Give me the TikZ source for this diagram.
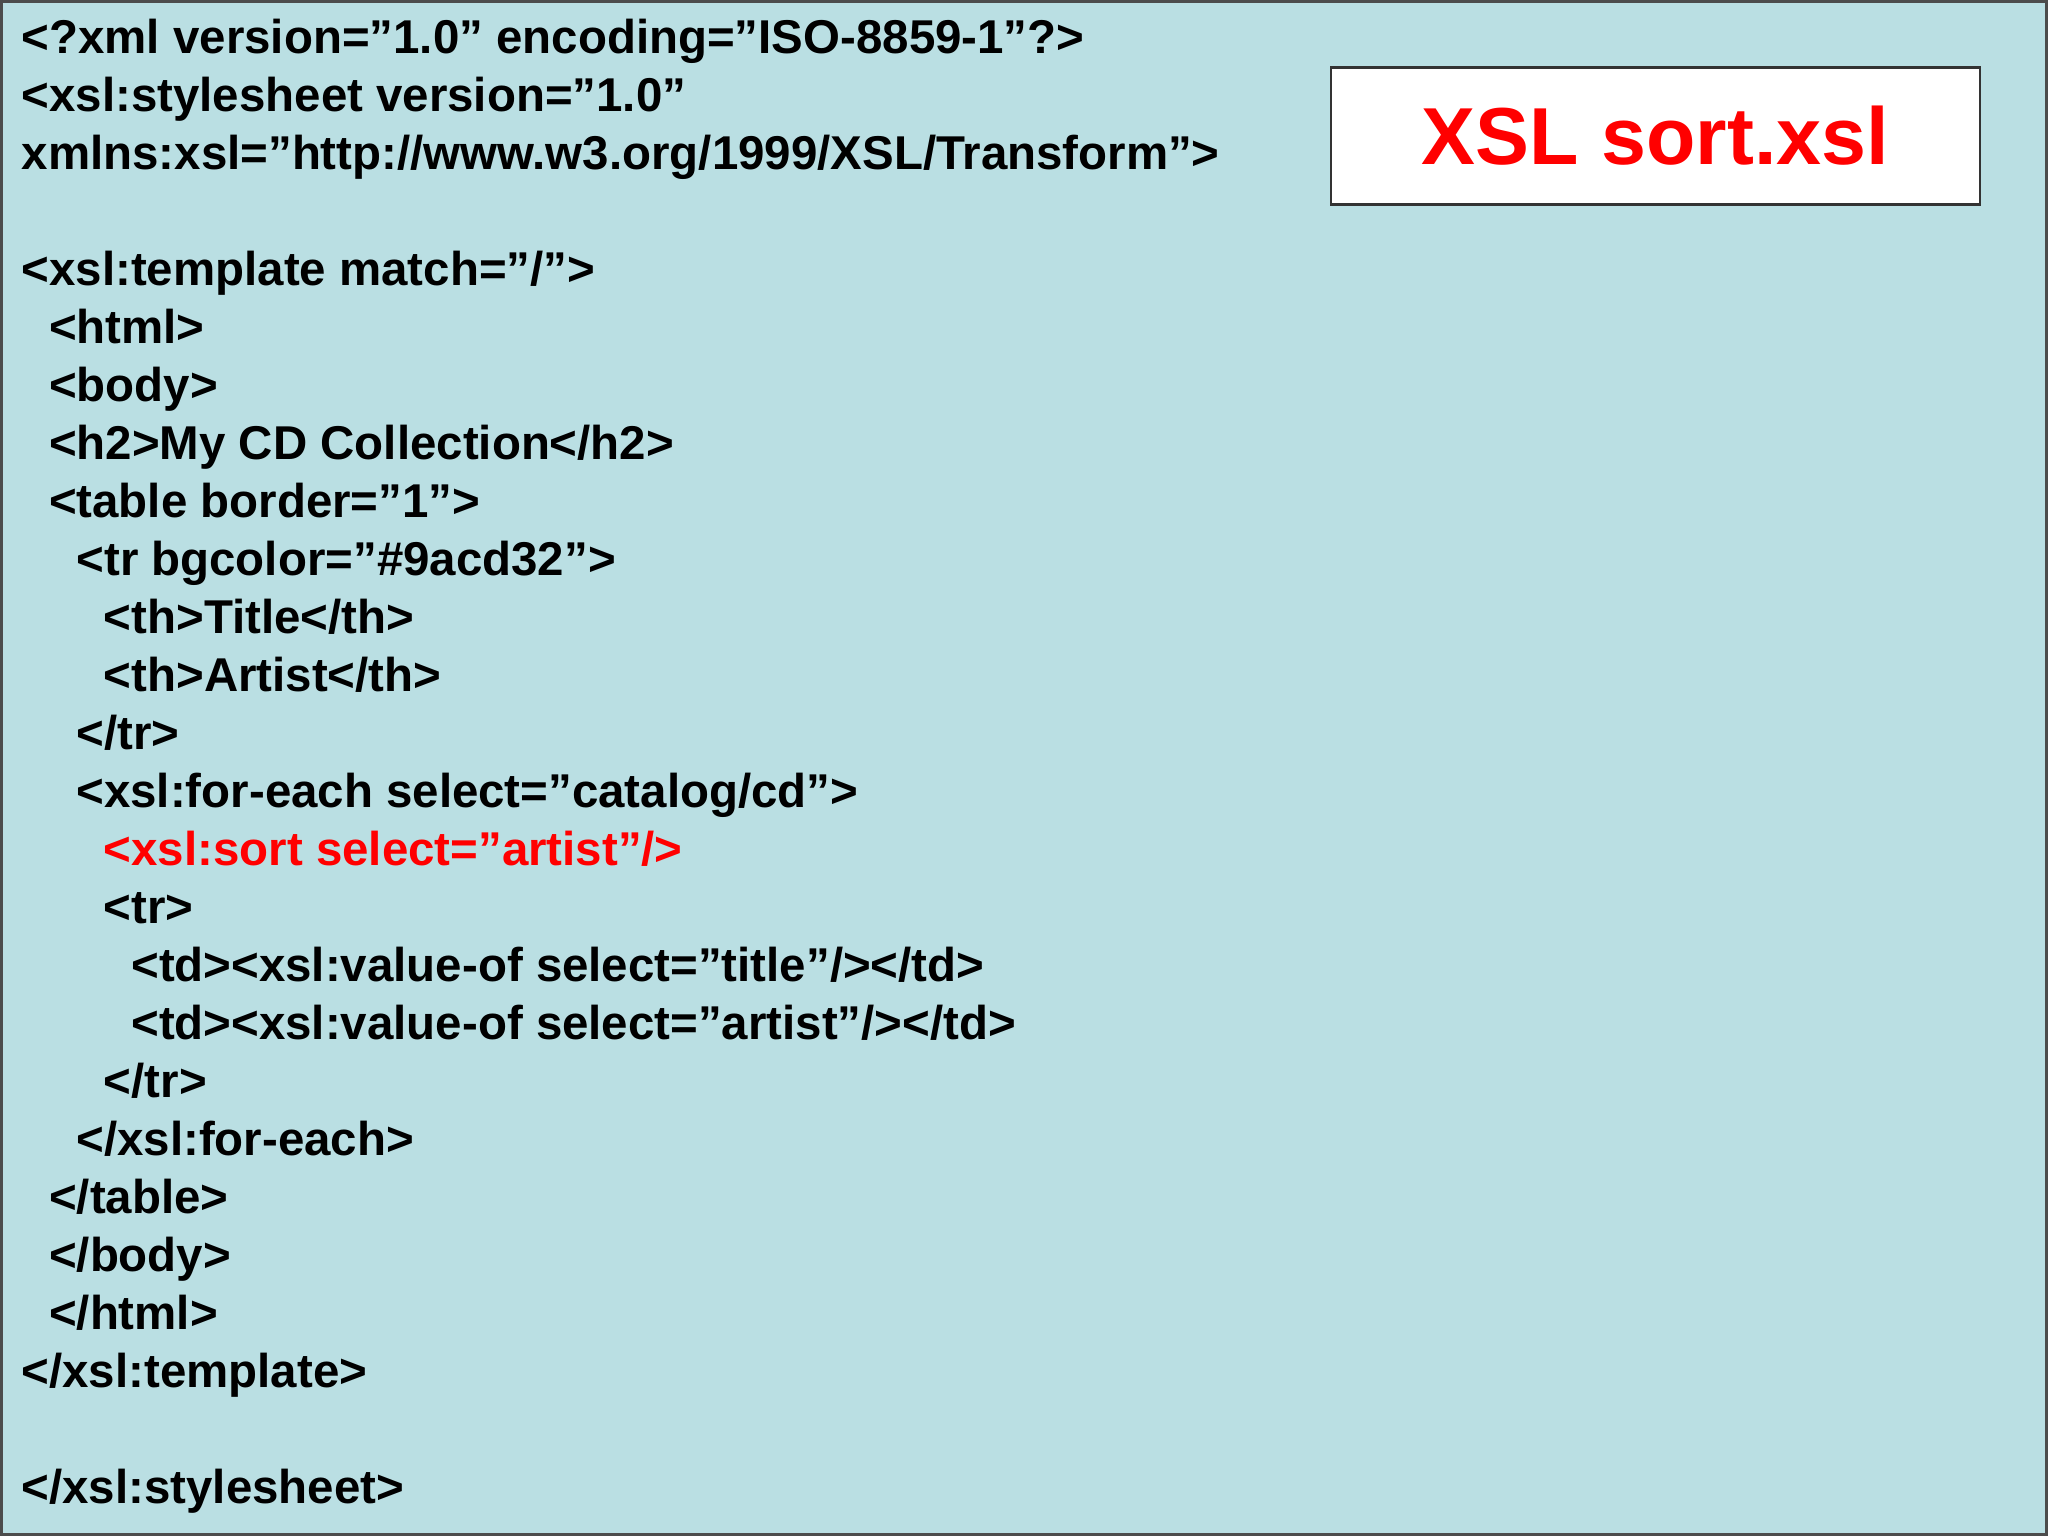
\documentclass[tikz,border=0pt]{standalone}
\usepackage{fontspec}
\setmainfont{Liberation Sans}
\definecolor{bg}{HTML}{BADFE3}
\definecolor{xred}{HTML}{FF0000}
\begin{document}
\begin{tikzpicture}[x=1cm,y=1cm,
  code/.style={anchor=mid west,inner sep=0pt,font=\fontsize{13.5}{16}\selectfont\bfseries}]
\useasboundingbox (0,0) rectangle (20.48,15.36);
\fill[bg,draw=black!70,line width=1pt] (0.01,0.01) rectangle (20.47,15.35);
\node[draw=black!80,fill=white,line width=0.8pt,minimum width=6.49cm,minimum height=1.37cm,inner sep=0pt] (title) at (16.555,14.0) {};
\node[text=xred,font=\fontsize{23}{28}\selectfont\bfseries] (tt) at (title.center) {XSL sort.xsl};
\def\L#1#2#3{\node[code] (l#1) at ({0.21+#2*0.274},{15.36-0.444-0.58*#1}) {#3};}
\L{0}{0}{<?xml version="1.0" encoding="ISO-8859-1"?>}
\L{1}{0}{<xsl:stylesheet version="1.0"}
\L{2}{0}{xmlns:xsl="http://www.w3.org/1999/XSL/Transform">}
\L{4}{0}{<xsl:template match="/">}
\L{5}{1}{<html>}
\L{6}{1}{<body>}
\L{7}{1}{<h2>My CD Collection</h2>}
\L{8}{1}{<table border="1">}
\L{9}{2}{<tr bgcolor="\#9acd32">}
\L{10}{3}{<th>Title</th>}
\L{11}{3}{<th>Artist</th>}
\L{12}{2}{</tr>}
\L{13}{2}{<xsl:for-each select="catalog/cd">}
\L{14}{3}{\textcolor{xred}{<xsl:sort select="artist"/>}}
\L{15}{3}{<tr>}
\L{16}{4}{<td><xsl:value-of select="title"/></td>}
\L{17}{4}{<td><xsl:value-of select="artist"/></td>}
\L{18}{3}{</tr>}
\L{19}{2}{</xsl:for-each>}
\L{20}{1}{</table>}
\L{21}{1}{</body>}
\L{22}{1}{</html>}
\L{23}{0}{</xsl:template>}
\L{25}{0}{</xsl:stylesheet>}
\end{tikzpicture}
\end{document}
